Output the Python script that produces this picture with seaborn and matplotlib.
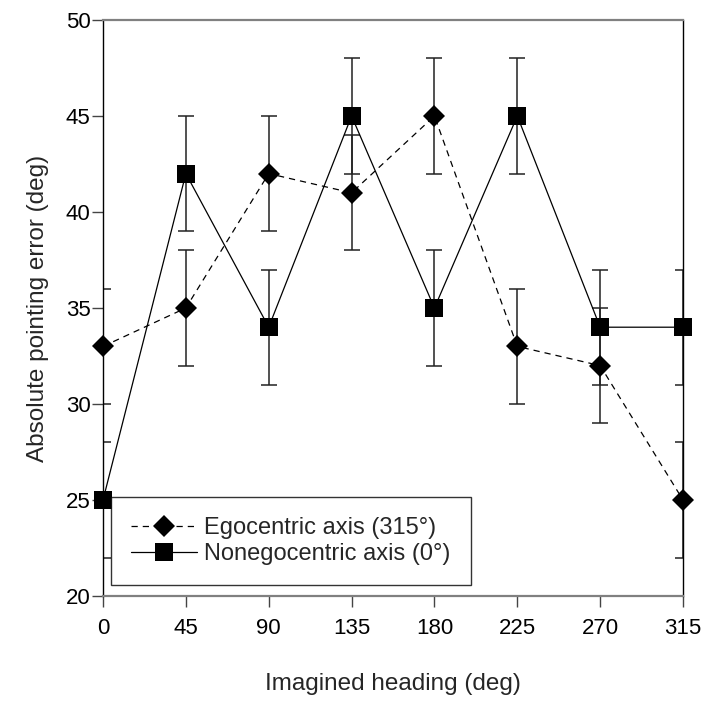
import matplotlib
matplotlib.use("Agg")
import matplotlib.pyplot as plt
from matplotlib.lines import Line2D
import seaborn as sns
import pandas as pd
import numpy as np

headings = [0, 45, 90, 135, 180, 225, 270, 315]
ego_err = [33, 35, 42, 41, 45, 33, 32, 25]
ego_sem = [3, 3, 3, 3, 3, 3, 3, 3]
nonego_err = [25, 42, 34, 45, 35, 45, 34, 34]
nonego_sem = [3, 3, 3, 3, 3, 3, 3, 3]
labels = ["Egocentric axis (315°)", "Nonegocentric axis (0°)"]

sns.set_style("white")
plt.rcParams['font.family'] = ['Liberation Sans', 'DejaVu Sans']

df = pd.DataFrame({
    "heading": headings * 2,
    "error": ego_err + nonego_err,
    "series": [labels[0]] * len(headings) + [labels[1]] * len(headings),
})

fig = plt.figure(figsize=(7.08, 7.02), dpi=100)
ax = fig.add_axes([0.1455, 0.151, 0.8192, 0.8205])

sns.lineplot(data=df, x="heading", y="error", style="series",
             markers={labels[0]: 'D', labels[1]: 's'},
             dashes={labels[0]: (5, 4), labels[1]: ''},
             color='black', linewidth=0.9, legend=False, ax=ax,
             markeredgewidth=0, zorder=3)
for ln in list(ax.lines):
    ln.set_clip_on(False)
    if ln.get_marker() == 'D':
        ln.set_markersize(11)
    elif ln.get_marker() == 's':
        ln.set_markersize(12.5)

# error bars (clipped at axes)
ax.errorbar(headings, ego_err, yerr=ego_sem, fmt='none', ecolor='#222222',
            elinewidth=1.1, capsize=5.5, capthick=1.1, zorder=1)
ax.errorbar(headings, nonego_err, yerr=nonego_sem, fmt='none', ecolor='#222222',
            elinewidth=1.1, capsize=5.5, capthick=1.1, zorder=1)

ax.set_xlim(0, 315)
ax.set_ylim(20, 50)
ax.set_xticks(headings)
ax.set_yticks([20, 25, 30, 35, 40, 45, 50])
ax.tick_params(axis='both', which='major', direction='out', length=8,
               width=1.0, color='#444444', labelsize=16, labelcolor='black')
ax.tick_params(axis='y', pad=1)
ax.tick_params(axis='x', pad=8)
ax.tick_params(left=True, bottom=True)

for side in ['top', 'bottom']:
    ax.spines[side].set_color('#808080')
    ax.spines[side].set_linewidth(1.6)
for side in ['left', 'right']:
    ax.spines[side].set_color('black')
    ax.spines[side].set_linewidth(1.0)

ax.set_xlabel("Imagined heading (deg)", fontsize=17.5, labelpad=24)
ax.set_ylabel("Absolute pointing error (deg)", fontsize=17.5, labelpad=12)

handles = [
    Line2D([], [], color='black', linestyle=(0, (5, 4)), linewidth=0.9,
           marker='D', markersize=11, markeredgewidth=0),
    Line2D([], [], color='black', linestyle='-', linewidth=0.9,
           marker='s', markersize=12.5, markeredgewidth=0),
]
leg = ax.legend(handles, labels, loc='lower left', bbox_to_anchor=(0.014, 0.019),
                borderaxespad=0, fontsize=17, handlelength=2.8,
                frameon=True, fancybox=False, edgecolor='black',
                borderpad=0.85, labelspacing=0.15, handletextpad=0.3)
leg.get_frame().set_linewidth(1.0)
leg.set_zorder(5)

fig.savefig("out.png", dpi=100)
